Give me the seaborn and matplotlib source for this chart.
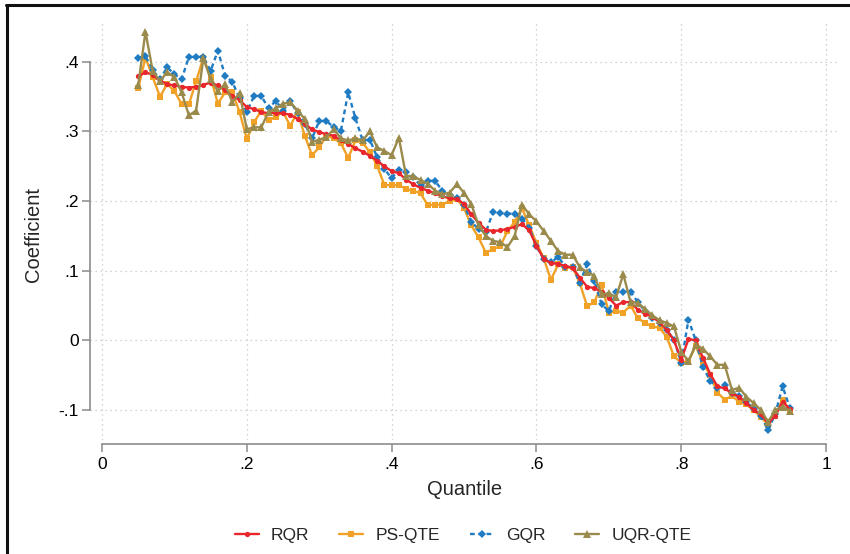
import numpy as np
import pandas as pd
import matplotlib
matplotlib.use("Agg")
import matplotlib.pyplot as plt
from matplotlib.lines import Line2D
from matplotlib.ticker import FuncFormatter
import seaborn as sns

# Quantile grid .05 ... .95
quantiles = np.round(np.arange(0.05, 0.9501, 0.01), 2)

rqr = [
    .379, .385, .381, .373, .368, .366, .364, .363, .364, .367,
    .370, .366, .359, .351, .345, .335, .332, .328, .326, .327,
    .326, .324, .318, .311, .303, .299, .296, .294, .287, .282,
    .276, .271, .265, .258, .250, .243, .240, .231, .224, .219,
    .215, .211, .207, .204, .203, .196, .181, .169, .159, .157,
    .158, .160, .163, .167, .158, .136, .117, .111, .110, .107,
    .104, .090, .077, .075, .070, .061, .050, .055, .055, .044,
    .038, .034, .026, .015, .000, -.028, .002, .000, -.025, -.048,
    -.066, -.069, -.076, -.081, -.090, -.100, -.106, -.119, -.108, -.088,
    -.099,
]
ps_qte = [
    .362, .406, .378, .350, .368, .358, .339, .339, .372, .406,
    .378, .340, .356, .356, .328, .289, .313, .330, .316, .321,
    .328, .308, .328, .294, .266, .277, .294, .290, .283, .262,
    .287, .284, .270, .251, .223, .223, .223, .217, .215, .211,
    .194, .195, .195, .200, .203, .190, .165, .148, .126, .131,
    .135, .157, .170, .190, .165, .140, .118, .087, .109, .104,
    .105, .082, .049, .055, .080, .040, .042, .040, .050, .032,
    .025, .020, .018, .005, -.023, -.032, -.030, -.008, -.032, -.050,
    -.075, -.085, -.080, -.088, -.092, -.100, -.110, -.121, -.108, -.085,
    -.100,
]
gqr = [
    .406, .408, .388, .375, .392, .382, .375, .407, .407, .407,
    .387, .416, .380, .371, .348, .328, .351, .351, .333, .344,
    .330, .343, .327, .311, .290, .315, .315, .306, .301, .356,
    .319, .287, .288, .263, .246, .233, .245, .242, .234, .222,
    .229, .229, .215, .209, .205, .195, .170, .160, .155, .184,
    .183, .182, .182, .175, .162, .135, .117, .112, .120, .106,
    .105, .083, .109, .085, .052, .042, .070, .070, .070, .055,
    .042, .032, .025, .015, .001, -.032, .030, .000, -.038, -.058,
    -.068, -.064, -.075, -.080, -.088, -.098, -.108, -.129, -.105, -.066,
    -.097,
]
uqr_qte = [
    .366, .443, .387, .372, .385, .378, .356, .323, .330, .405,
    .375, .358, .368, .342, .355, .303, .306, .306, .328, .333,
    .340, .342, .330, .318, .285, .288, .292, .303, .290, .287,
    .290, .287, .300, .277, .272, .266, .291, .236, .236, .230,
    .225, .215, .210, .212, .224, .212, .196, .165, .150, .143,
    .141, .134, .150, .195, .181, .171, .157, .143, .128, .123,
    .123, .105, .098, .093, .066, .068, .062, .095, .055, .054,
    .045, .036, .029, .025, .020, -.016, -.030, -.006, -.012, -.023,
    -.035, -.035, -.071, -.068, -.081, -.090, -.100, -.117, -.100, -.095,
    -.101,
]

series_names = ["RQR", "PS-QTE", "GQR", "UQR-QTE"]
series_values = [rqr, ps_qte, gqr, uqr_qte]
colors = ["#E8262C", "#F0A126", "#1F7BC2", "#9A8A4C"]
markers = ["o", "s", "D", "^"]
marker_sizes = [3.8, 4.4, 4.0, 5.2]
line_styles = ["-", "-", (0, (2.0, 1.5)), "-"]
z_orders = [5, 3, 4, 6]

df = pd.concat(
    [pd.DataFrame({"quantile": quantiles, "coef": vals, "model": name})
     for name, vals in zip(series_names, series_values)],
    ignore_index=True,
)

sns.set_theme(style="white")
plt.rcParams["font.family"] = ["Liberation Sans", "DejaVu Sans"]

fig = plt.figure(figsize=(8.5, 5.54), dpi=100)
W, H = 850, 554
ax = fig.add_axes([90 / W, 1 - 440 / H, 750 / W, 420 / H])

for name, col, mk, ms, ls, zo in zip(series_names, colors, markers,
                                     marker_sizes, line_styles, z_orders):
    sub = df[df["model"] == name]
    sns.lineplot(data=sub, x="quantile", y="coef", ax=ax, color=col,
                 marker=mk, markersize=ms, markeredgewidth=0,
                 linewidth=1.7, linestyle=ls, label=name, zorder=zo,
                 errorbar=None, sort=True)

ax.set_xlim(-0.0166, 1.0193)
ax.set_ylim(-0.143, 0.460)
ax.set_xticks([0, .2, .4, .6, .8, 1])
ax.set_yticks([-.1, 0, .1, .2, .3, .4])


def stata_fmt(v, pos=None):
    if abs(v) < 1e-9:
        return "0"
    return f"{v:g}".replace("0.", ".")


ax.xaxis.set_major_formatter(FuncFormatter(stata_fmt))
ax.yaxis.set_major_formatter(FuncFormatter(stata_fmt))

ax.grid(True, linestyle=(0, (1, 3)), color="#c4c4c4", linewidth=0.9)
ax.set_axisbelow(True)

for side in ["top", "right"]:
    ax.spines[side].set_visible(False)
for side in ["left", "bottom"]:
    ax.spines[side].set_color("#8c8c8c")
    ax.spines[side].set_linewidth(1.2)
ax.spines["left"].set_bounds(-0.1, 0.4)
ax.spines["bottom"].set_bounds(0, 1)
ax.spines["bottom"].set_position(("outward", 3))

ax.tick_params(axis="both", which="both", direction="out", length=6,
               width=1.1, color="#8c8c8c", labelsize=12.5, labelcolor="black",
               left=True, bottom=True)
ax.tick_params(axis="y", pad=2)
ax.tick_params(axis="x", pad=3)

ax.set_xlabel("Quantile", fontsize=14.5)
ax.set_ylabel("Coefficient", fontsize=14.5)
ax.xaxis.set_label_coords(0.5, -0.095)
ax.yaxis.set_label_coords(-0.062, 0.49)

handles, labels = ax.get_legend_handles_labels()
ax.get_legend().remove()
fig.legend(handles, labels, loc="center", bbox_to_anchor=(463 / W, 1 - 535 / H),
           ncol=4, frameon=False, fontsize=12.5, handlelength=1.4,
           handletextpad=0.7, columnspacing=1.7)

# outer frame (top and left edges)
fig.add_artist(Line2D([6 / W, 1], [1 - 5 / H, 1 - 5 / H], color="#111111",
                      linewidth=2.2, transform=fig.transFigure))
fig.add_artist(Line2D([6.5 / W, 6.5 / W], [0, 1 - 5 / H], color="#111111",
                      linewidth=2.2, transform=fig.transFigure))

fig.savefig("out.png", dpi=100, facecolor="white")
